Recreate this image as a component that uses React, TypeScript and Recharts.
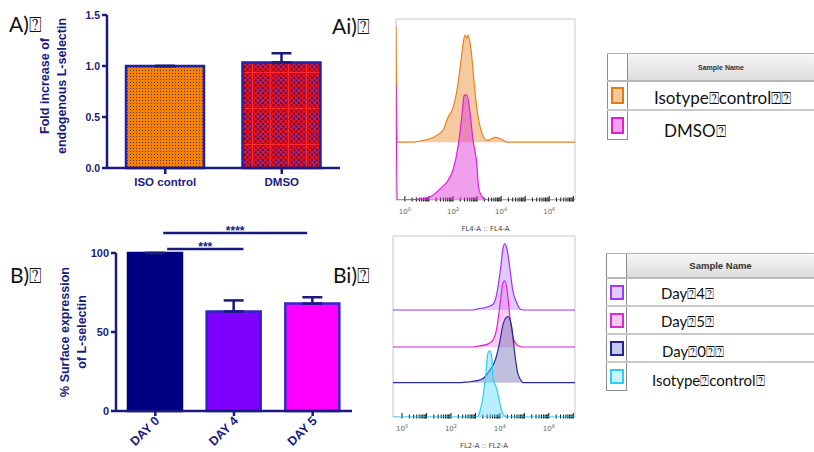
import React from "react";
import {
  BarChart,
  Bar,
  XAxis,
  YAxis,
  Cell,
  ErrorBar,
  ReferenceLine,
  AreaChart,
  Area,
  ReferenceArea,
} from "recharts";

const NAVY = "#1b1b7d";
const AXIS_FONT = "'Liberation Sans', Arial, sans-serif";
const TEXT_FONT = "Lato, 'Open Sans', sans-serif";
const FLOW_FONT = "'DejaVu Sans', sans-serif";

// A) fold increase of endogenous L-selectin
const aCategories = ["ISO control", "DMSO"];
const aMeans = [1.0, 1.035];
const aSem = [0, 0.09];
const aTicks = [0, 0.5, 1.0, 1.5];
const aFills = ["url(#isoDots)", "url(#dmsoGrid)"];

// B) % surface expression of L-selectin
const bCategories = ["DAY 0", "DAY 4", "DAY 5"];
const bMeans = [100, 63, 68];
const bSem = [0, 7, 4];
const bTicks = [0, 50, 100];
const bFills = ["#000080", "#8000ff", "#ff00ff"];
const bStrokes = ["#000080", "#2c24c4", "#3226cc"];

// significance bars (x in category slot units, slot i centred at i + 0.5)
const sigLabels = ["***", "****"];
const sigFrom = [0.65, 0.6];
const sigTo = [1.62, 2.43];
const sigLevel = [102.5, 112.7];

// Ai / Bi) histograms: x = log10 intensity, y = % of mode
const X_DOMAIN: [number, number] = [-0.37, 7.07];
const decadeLabels = [0, 2, 4, 6];

type Pt = [number, number];

const aiIsotype: Pt[] = [
  [-0.37, 108], [-0.32, 0], [0.33, 0], [0.75, 1.6], [1.17, 4.4], [1.58, 11],
  [1.79, 23], [2.0, 32], [2.21, 55], [2.33, 76], [2.42, 92], [2.5, 100],
  [2.58, 97], [2.63, 100], [2.75, 86], [2.88, 55], [3.0, 30], [3.21, 8],
  [3.42, 1.6], [3.75, 4.4], [3.96, 3.4], [4.25, 0], [7.07, 0],
];
const aiDmso: Pt[] = [
  [-0.37, 107], [-0.32, 0], [0.5, 0.6], [1.04, 3], [1.54, 12], [1.75, 17],
  [2.0, 28], [2.21, 50], [2.38, 81], [2.46, 98], [2.58, 98], [2.71, 81],
  [2.83, 56], [3.0, 31], [3.06, 12], [3.21, 3], [3.42, 0], [7.07, 0],
];

const biDay4: Pt[] = [
  [-0.37, 0], [2.9, 0], [3.06, 1.5], [3.47, 4.6], [3.71, 8.2], [3.88, 26],
  [4.04, 67], [4.12, 92], [4.2, 100], [4.29, 92], [4.41, 62], [4.53, 29],
  [4.69, 11], [4.82, 1.5], [4.94, 0], [7.07, 0],
];
const biDay5: Pt[] = [
  [-0.37, 0], [2.9, 0], [3.06, 1], [3.47, 4], [3.71, 10], [3.88, 30],
  [4.04, 75], [4.12, 97], [4.2, 100], [4.29, 87], [4.41, 45], [4.53, 15],
  [4.69, 3.5], [4.9, 0], [7.07, 0],
];
const biDay0: Pt[] = [
  [-0.37, 0], [2.4, 0], [2.69, 1], [3.06, 3], [3.31, 6.4], [3.59, 19],
  [3.8, 33], [4.0, 63], [4.12, 87], [4.24, 98], [4.33, 100], [4.49, 83],
  [4.61, 43], [4.73, 14], [4.9, 1.5], [4.94, 0], [7.07, 0],
];
const biIsotype: Pt[] = [
  [-0.37, 0], [3.06, 0], [3.18, 8], [3.31, 31], [3.43, 67], [3.51, 97],
  [3.59, 100], [3.67, 90], [3.71, 62], [3.88, 41], [4.0, 20], [4.12, 5],
  [4.29, 0], [7.07, 0],
];

const aiLegend = [
  { label: "Isotype⍰control⍰⍰", stroke: "#e07a14", fill: "#f5c89c" },
  { label: "DMSO⍰", stroke: "#e01ed0", fill: "#f0a2ea" },
];
const biLegend = [
  { label: "Day⍰4⍰", stroke: "#9a3cff", fill: "#e2ccff" },
  { label: "Day⍰5⍰", stroke: "#e028d0", fill: "#f8c8f2" },
  { label: "Day⍰0⍰⍰", stroke: "#22229a", fill: "#c8c8ec" },
  { label: "Isotype⍰control⍰", stroke: "#2ccff8", fill: "#c8f4ff" },
];

// minor + major log ticks
const logTicks: number[] = [];
for (let d = 0; d <= 7; d++) {
  for (let k = 1; k <= 9; k++) {
    const v = d + Math.log10(k);
    if (v <= X_DOMAIN[1]) logTicks.push(v);
  }
}

interface Frame {
  w: number;
  h: number;
  top: number;
  left: number;
  right: number;
  axisH: number;
}

const aiFrame: Frame = { w: 200, h: 235, top: 19, left: 16, right: 5, axisH: 35 };
const biFrame: Frame = { w: 200, h: 222, top: 6, left: 16, right: 2, axisH: 35 };

function LogTick(props: any) {
  const { x, y, payload } = props;
  const v = payload.value as number;
  const dec = Math.round(v);
  const isDecade = Math.abs(v - dec) < 1e-6;
  const showLabel = isDecade && decadeLabels.includes(dec);
  return (
    <g>
      <line x1={x} x2={x} y1={y - (isDecade ? 4 : 2.5)} y2={y + 1.5} stroke="#111" strokeWidth={1} />
      {showLabel && (
        <text x={x} y={y + 14} textAnchor="middle" fontSize={7} fill="#666" fontFamily={FLOW_FONT}>
          10
          <tspan dy={-3} fontSize={5}>
            {dec}
          </tspan>
        </text>
      )}
    </g>
  );
}

interface HistProps {
  points: Pt[];
  stroke: string;
  fill: string;
  opacity: number;
  offset: number;
  span: number;
  frame: Frame;
  base?: boolean;
  axisLabel?: string;
}

function HistLayer({ points, stroke, fill, opacity, offset, span, frame, base, axisLabel }: HistProps) {
  const rows = points.map(([x, y]) => ({ x, y }));
  return (
    <div style={{ position: "absolute", left: 0, top: 0, fontFamily: FLOW_FONT }}>
      <AreaChart
        width={frame.w}
        height={frame.h}
        data={rows}
        margin={{ top: frame.top, right: frame.right, left: frame.left, bottom: base ? 0 : frame.axisH }}
      >
        {base ? (
          <XAxis
            type="number"
            dataKey="x"
            domain={X_DOMAIN}
            allowDataOverflow
            ticks={logTicks}
            interval={0}
            tick={(p: any) => <LogTick {...p} />}
            tickLine={false}
            axisLine={false}
            tickSize={0}
            tickMargin={0}
            height={frame.axisH}
            label={{ value: axisLabel, position: "insideBottom", offset: 4, fill: "#444", fontSize: 7 }}
          />
        ) : (
          <XAxis type="number" dataKey="x" domain={X_DOMAIN} allowDataOverflow hide />
        )}
        <YAxis type="number" domain={[-offset, span - offset]} allowDataOverflow hide />
        {base && (
          <ReferenceArea
            x1={X_DOMAIN[0]}
            x2={X_DOMAIN[1]}
            y1={-offset}
            y2={span - offset}
            fill="none"
            stroke="#c6c6c6"
            strokeWidth={1}
            ifOverflow="visible"
          />
        )}
        <Area
          type="monotone"
          dataKey="y"
          baseValue={0}
          stroke={stroke}
          strokeWidth={1.2}
          fill={fill}
          fillOpacity={opacity}
          dot={false}
          activeDot={false}
          isAnimationActive={false}
        />
      </AreaChart>
    </div>
  );
}

function RotLabel({ lines, cx, cy, size }: { lines: string[]; cx: number; cy: number; size: number }) {
  return (
    <div
      style={{
        position: "absolute",
        left: cx,
        top: cy,
        transform: "translate(-50%, -50%) rotate(-90deg)",
        whiteSpace: "nowrap",
        textAlign: "center",
        fontFamily: AXIS_FONT,
        fontWeight: 700,
        fontSize: size,
        lineHeight: "17px",
        color: NAVY,
      }}
    >
      {lines.map((l) => (
        <div key={l}>{l}</div>
      ))}
    </div>
  );
}

function PanelTag({ text, left, top }: { text: string; left: number; top: number }) {
  return (
    <div style={{ position: "absolute", left, top, fontFamily: TEXT_FONT, fontSize: 21, color: "#111", lineHeight: 1 }}>
      {text}
    </div>
  );
}

interface LegendRow {
  label: string;
  stroke: string;
  fill: string;
}

function SampleTable(props: {
  left: number;
  top: number;
  headerH: number;
  rowH: number;
  headerSize: number;
  textSize: number;
  swatch: [number, number];
  indents: number[];
  drops: number[];
  rows: LegendRow[];
}) {
  const { left, top, headerH, rowH, headerSize, textSize, swatch, indents, drops, rows } = props;
  const side = "1px solid #8c8c8c";
  return (
    <div style={{ position: "absolute", left, top, width: 814 - left, fontFamily: TEXT_FONT }}>
      <div style={{ display: "flex", height: headerH, borderTop: "1px solid #b4b4b4", borderBottom: "2px solid #b8b8b8", boxSizing: "border-box" }}>
        <div style={{ width: 21, borderLeft: side, borderRight: side, boxSizing: "border-box" }} />
        <div
          style={{
            flex: 1,
            background: "linear-gradient(#f7f7f7, #dcdcdc)",
            display: "flex",
            alignItems: "center",
            justifyContent: "center",
            fontFamily: AXIS_FONT,
            fontWeight: 700,
            fontSize: headerSize,
            color: "#333",
          }}
        >
          Sample Name
        </div>
      </div>
      {rows.map((r, i) => {
        const last = i === rows.length - 1;
        return (
          <div key={r.label} style={{ display: "flex", height: rowH, boxSizing: "border-box", borderBottom: last ? "none" : "2px solid #c9c9c9" }}>
            <div
              style={{
                width: 21,
                borderLeft: side,
                borderRight: side,
                borderBottom: last ? side : "none",
                boxSizing: "border-box",
                display: "flex",
                alignItems: "center",
                justifyContent: "center",
              }}
            >
              <div style={{ width: swatch[0], height: swatch[1], background: r.fill, border: `2px solid ${r.stroke}`, boxSizing: "border-box" }} />
            </div>
            <div style={{ flex: 1, paddingLeft: indents[i], display: "flex", alignItems: "center", fontSize: textSize, color: "#111", paddingTop: drops[i], boxSizing: "border-box" }}>
              {r.label}
            </div>
          </div>
        );
      })}
    </div>
  );
}

function PanelA() {
  const data = aCategories.map((name, i) => ({ name, value: aMeans[i], err: [0, aSem[i]] }));
  return (
    <div style={{ position: "absolute", left: 0, top: 0, fontFamily: AXIS_FONT }}>
      <BarChart width={345} height={200} data={data} margin={{ top: 15, right: 5, left: 67, bottom: 0 }}>
        <defs>
          <pattern id="isoDots" width="3" height="3" patternUnits="userSpaceOnUse">
            <rect width="3" height="3" fill="#f58200" />
            <rect x="1" y="1" width="1" height="1" fill="#4a2f70" />
          </pattern>
          <pattern id="dmsoCheck" width="5" height="5" patternUnits="userSpaceOnUse">
            <rect width="5" height="5" fill="#f01010" />
            <rect width="2" height="2" fill="#2418a0" />
            <rect x="2.5" y="2.5" width="2" height="2" fill="#2418a0" />
          </pattern>
          <pattern id="dmsoGrid" width="18" height="36" patternUnits="userSpaceOnUse">
            <rect width="18" height="36" fill="url(#dmsoCheck)" />
            <rect x="0" width="1" height="36" fill="#ff2a2a" />
            <rect y="0" width="18" height="1" fill="#ff2a2a" />
          </pattern>
        </defs>
        <XAxis
          dataKey="name"
          height={32}
          axisLine={{ stroke: NAVY, strokeWidth: 2.5 }}
          tickLine={{ stroke: NAVY, strokeWidth: 2.5 }}
          tickSize={6}
          tickMargin={4}
          tick={{ fill: NAVY, fontSize: 11.5, fontWeight: 700 }}
        />
        <YAxis
          width={40}
          domain={[0, 1.5]}
          ticks={aTicks}
          interval={0}
          tickFormatter={(v: number) => v.toFixed(1)}
          axisLine={{ stroke: NAVY, strokeWidth: 2.5 }}
          tickLine={{ stroke: NAVY, strokeWidth: 2.5 }}
          tickSize={5}
          tickMargin={2}
          tick={{ fill: NAVY, fontSize: 10.5, fontWeight: 700 }}
        />
        <Bar dataKey="value" barSize={78} stroke="#2222a4" strokeWidth={2.5} isAnimationActive={false}>
          {data.map((d, i) => (
            <Cell key={d.name} fill={aFills[i]} />
          ))}
          <ErrorBar dataKey="err" direction="y" width={10} stroke={NAVY} strokeWidth={2.5} />
        </Bar>
      </BarChart>
    </div>
  );
}

function DayTick(props: any) {
  const { x, y, payload } = props;
  const label = bCategories[Math.floor(payload.value)];
  return (
    <g transform={`translate(${x},${y})`}>
      <text x={1} y={6} textAnchor="end" transform="rotate(-45)" fill={NAVY} fontSize={12.5} fontWeight={700}>
        {label}
      </text>
    </g>
  );
}

function PanelB() {
  const data = bCategories.map((name, i) => ({ name, pos: i + 0.5, value: bMeans[i], err: [0, bSem[i]] }));
  const slotTicks = data.map((d) => d.pos);
  return (
    <div style={{ position: "absolute", left: 0, top: 210, fontFamily: AXIS_FONT }}>
      <BarChart width={356} height={242} data={data} margin={{ top: 43, right: 4, left: 76, bottom: 0 }}>
        <XAxis
          type="number"
          dataKey="pos"
          domain={[0, bCategories.length]}
          allowDataOverflow
          ticks={slotTicks}
          interval={0}
          height={41}
          axisLine={{ stroke: NAVY, strokeWidth: 2.5 }}
          tickLine={{ stroke: NAVY, strokeWidth: 2.5 }}
          tickSize={5}
          tickMargin={2}
          tick={(p: any) => <DayTick {...p} />}
        />
        <YAxis
          width={40}
          domain={[0, 100]}
          ticks={bTicks}
          interval={0}
          axisLine={{ stroke: NAVY, strokeWidth: 2.5 }}
          tickLine={{ stroke: NAVY, strokeWidth: 2.5 }}
          tickSize={5}
          tickMargin={2}
          tick={{ fill: NAVY, fontSize: 11, fontWeight: 700 }}
        />
        <Bar dataKey="value" barSize={54} strokeWidth={2.5} isAnimationActive={false}>
          {data.map((d, i) => (
            <Cell key={d.name} fill={bFills[i]} stroke={bStrokes[i]} />
          ))}
          <ErrorBar dataKey="err" direction="y" width={10} stroke={NAVY} strokeWidth={2.5} />
        </Bar>
        {sigLabels.map((s, i) => (
          <ReferenceLine
            key={s}
            ifOverflow="visible"
            segment={[
              { x: sigFrom[i], y: sigLevel[i] },
              { x: sigTo[i], y: sigLevel[i] },
            ]}
            stroke={NAVY}
            strokeWidth={2.5}
            label={{ value: s, position: "top", offset: -2, fill: NAVY, fontSize: 12, fontWeight: 700 }}
          />
        ))}
      </BarChart>
    </div>
  );
}

function PanelAi() {
  const span = 169;
  return (
    <div style={{ position: "absolute", left: 380, top: 0, width: 200, height: 235 }}>
      <HistLayer points={aiIsotype} stroke="#e8801e" fill="#e8801e" opacity={0.42} offset={54} span={span} frame={aiFrame} base axisLabel="FL4-A :: FL4-A" />
      <HistLayer points={aiDmso} stroke="#e020d8" fill="#e040d8" opacity={0.5} offset={0} span={span} frame={aiFrame} />
    </div>
  );
}

function PanelBi() {
  const span = 274;
  return (
    <div style={{ position: "absolute", left: 377, top: 230, width: 200, height: 222 }}>
      <HistLayer points={biDay4} stroke="#9b30ff" fill="#b070ff" opacity={0.38} offset={162} span={span} frame={biFrame} base axisLabel="FL2-A :: FL2-A" />
      <HistLayer points={biDay5} stroke="#e020d0" fill="#ee60e0" opacity={0.32} offset={106} span={span} frame={biFrame} />
      <HistLayer points={biDay0} stroke="#2a2a9a" fill="#6a6ab0" opacity={0.42} offset={52} span={span} frame={biFrame} />
      <HistLayer points={biIsotype} stroke="#28d0f8" fill="#60dcff" opacity={0.45} offset={0} span={span} frame={biFrame} />
    </div>
  );
}

export default function App() {
  return (
    <div style={{ position: "absolute", left: 0, top: 0, width: 814, height: 452, background: "#fff", overflow: "hidden" }}>
      <PanelTag text="A)⍰" left={9} top={13} />
      <PanelTag text="Ai)⍰" left={332} top={15} />
      <PanelTag text="B)⍰" left={10} top={264} />
      <PanelTag text="Bi)⍰" left={333} top={264} />
      <RotLabel lines={["Fold increase of", "endogenous L-selectin"]} cx={53.5} cy={86} size={12.5} />
      <RotLabel lines={["% Surface expression", "of L-selectin"]} cx={73.5} cy={332} size={12.5} />
      <PanelA />
      <PanelB />
      <PanelAi />
      <PanelBi />
      <SampleTable left={607} top={53} headerH={29} rowH={29} headerSize={7} textSize={17} swatch={[13, 17]} indents={[26, 36]} drops={[4, 10]} rows={aiLegend} />
      <SampleTable left={606} top={253} headerH={26} rowH={28} headerSize={9.5} textSize={15} swatch={[14, 15]} indents={[34, 34, 35, 25]} drops={[2, 2, 6, 6]} rows={biLegend} />
    </div>
  );
}
